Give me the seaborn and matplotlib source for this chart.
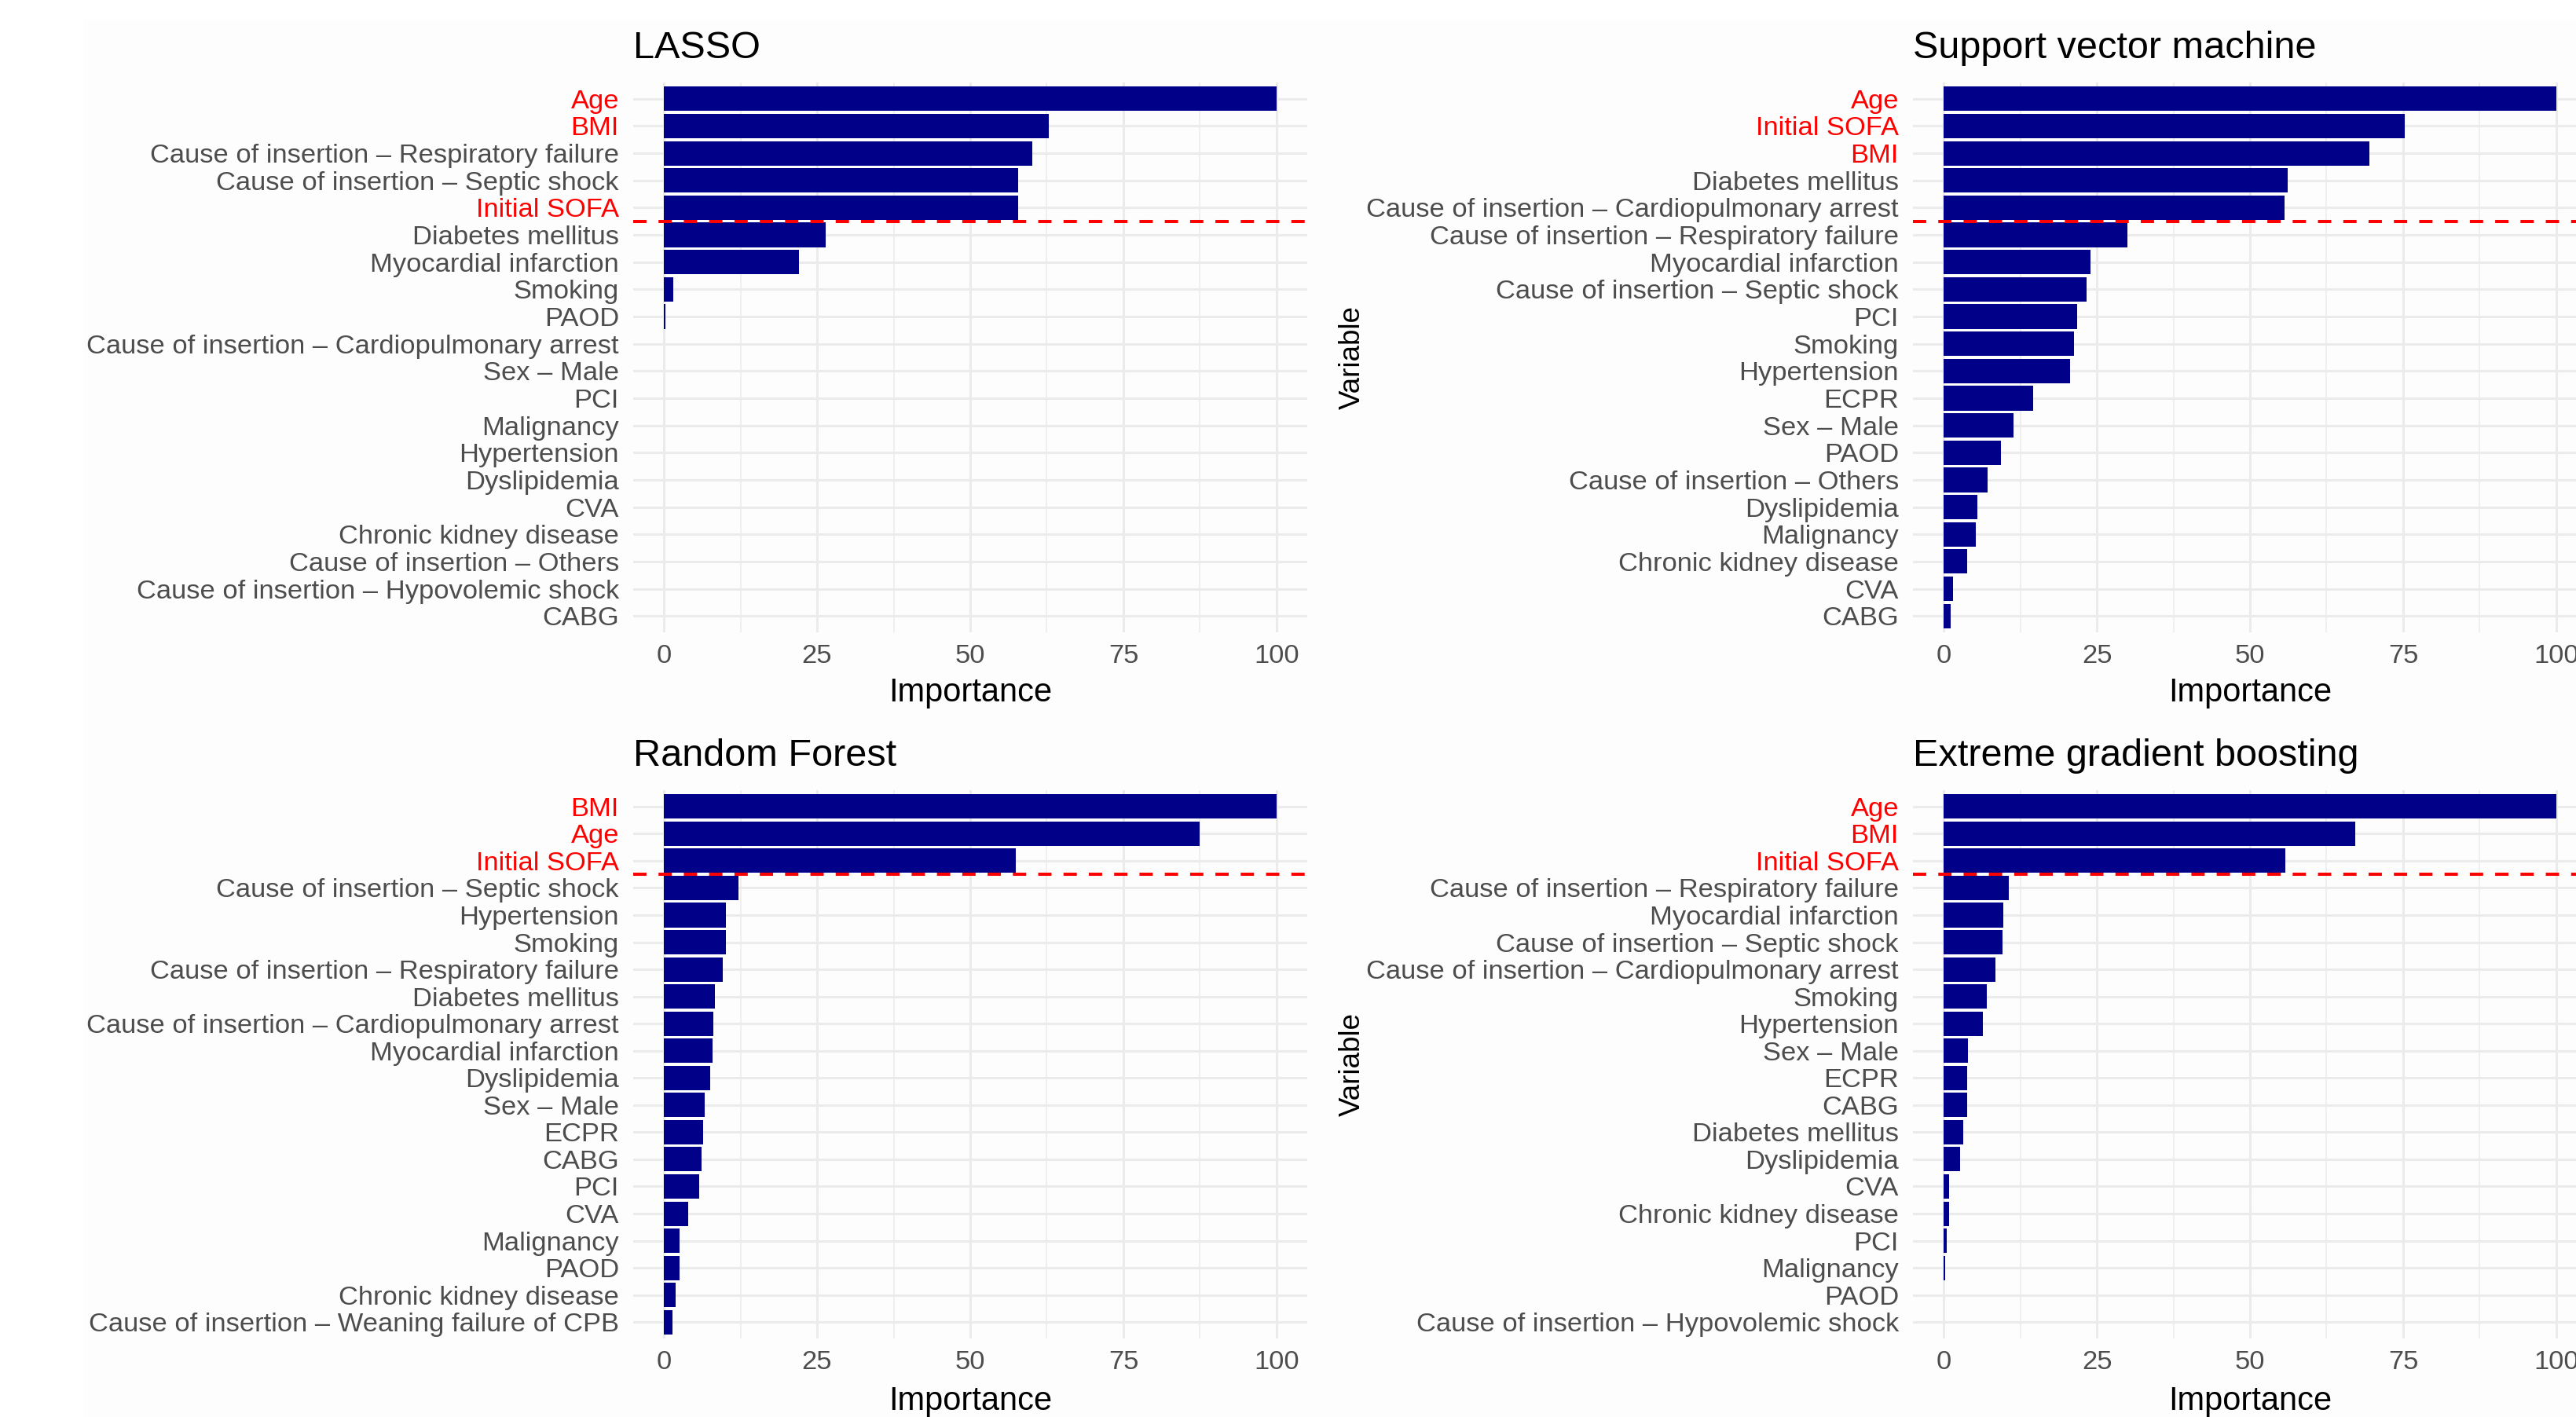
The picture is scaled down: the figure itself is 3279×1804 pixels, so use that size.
import matplotlib
matplotlib.use("Agg")
import matplotlib.pyplot as plt
from matplotlib.patches import Rectangle
import pandas as pd
import seaborn as sns

# ---- variable importance per model (ordered from most to least important) ----
lasso_vars = ["Age", "BMI", "Cause of insertion – Respiratory failure",
              "Cause of insertion – Septic shock", "Initial SOFA", "Diabetes mellitus",
              "Myocardial infarction", "Smoking", "PAOD",
              "Cause of insertion – Cardiopulmonary arrest", "Sex – Male", "PCI",
              "Malignancy", "Hypertension", "Dyslipidemia", "CVA",
              "Chronic kidney disease", "Cause of insertion – Others",
              "Cause of insertion – Hypovolemic shock", "CABG"]
lasso_imp = [100, 62.8, 60.1, 57.8, 57.8, 26.4, 22.1, 1.5, 0.3,
             0, 0, 0, 0, 0, 0, 0, 0, 0, 0, 0]

svm_vars = ["Age", "Initial SOFA", "BMI", "Diabetes mellitus",
            "Cause of insertion – Cardiopulmonary arrest",
            "Cause of insertion – Respiratory failure", "Myocardial infarction",
            "Cause of insertion – Septic shock", "PCI", "Smoking", "Hypertension",
            "ECPR", "Sex – Male", "PAOD", "Cause of insertion – Others",
            "Dyslipidemia", "Malignancy", "Chronic kidney disease", "CVA", "CABG"]
svm_imp = [100, 75.2, 69.5, 56.1, 55.6, 30.0, 24.0, 23.3, 21.8, 21.3,
           20.6, 14.6, 11.4, 9.4, 7.2, 5.5, 5.2, 3.9, 1.6, 1.1]

rf_vars = ["BMI", "Age", "Initial SOFA", "Cause of insertion – Septic shock",
           "Hypertension", "Smoking", "Cause of insertion – Respiratory failure",
           "Diabetes mellitus", "Cause of insertion – Cardiopulmonary arrest",
           "Myocardial infarction", "Dyslipidemia", "Sex – Male", "ECPR", "CABG",
           "PCI", "CVA", "Malignancy", "PAOD", "Chronic kidney disease",
           "Cause of insertion – Weaning failure of CPB"]
rf_imp = [100, 87.5, 57.4, 12.2, 10.1, 10.1, 9.6, 8.3, 8.1, 8.0,
          7.5, 6.7, 6.4, 6.1, 5.8, 4.0, 2.6, 2.6, 1.9, 1.4]

xgb_vars = ["Age", "BMI", "Initial SOFA", "Cause of insertion – Respiratory failure",
            "Myocardial infarction", "Cause of insertion – Septic shock",
            "Cause of insertion – Cardiopulmonary arrest", "Smoking", "Hypertension",
            "Sex – Male", "ECPR", "CABG", "Diabetes mellitus", "Dyslipidemia", "CVA",
            "Chronic kidney disease", "PCI", "Malignancy", "PAOD",
            "Cause of insertion – Hypovolemic shock"]
xgb_imp = [100, 67.2, 55.8, 10.7, 9.8, 9.6, 8.4, 7.0, 6.4, 4.0,
           3.9, 3.9, 3.2, 2.7, 0.9, 0.9, 0.5, 0.2, 0, 0]

titles = ["LASSO", "Support vector machine", "Random Forest", "Extreme gradient boosting"]
cutoffs = [5, 5, 3, 3]            # number of variables above the dashed line
highlighted = ["Age", "BMI", "Initial SOFA"]
x_ticks = [0, 25, 50, 75, 100]
x_minor = [12.5, 37.5, 62.5, 87.5]

NAVY = "#000088"
GRID = "#EBEBEB"
TICK_GRAY = "#4D4D4D"

sns.set_theme(style="white")
plt.rcParams["font.family"] = ["Liberation Sans", "DejaVu Sans"]

W, H = 3279, 1804
fig = plt.figure(figsize=(W / 100, H / 100), dpi=100)
fig.patch.set_facecolor("white")
fig.patches.append(Rectangle((107 / W, 0), (W - 107) / W, (H - 25) / H,
                             transform=fig.transFigure, facecolor="#FDFDFD",
                             edgecolor="none", zorder=-10))

# panel rectangles in pixel units: (left, top, width, height)
rects = [(806, 105, 858, 700), (2435, 105, 858, 700),
         (806, 1006, 858, 698), (2435, 1006, 858, 698)]
xlabel_y = [-0.11, -0.11, -0.114, -0.114]
show_ylabel = [False, True, False, True]

panels = [(lasso_vars, lasso_imp), (svm_vars, svm_imp),
          (rf_vars, rf_imp), (xgb_vars, xgb_imp)]

for i, (vars_, imp) in enumerate(panels):
    l, t, w, h = rects[i]
    ax = fig.add_axes([l / W, (H - t - h) / H, w / W, h / H])
    ax.set_facecolor("none")
    df = pd.DataFrame({"Variable": vars_, "Importance": imp})
    sns.barplot(data=df, x="Importance", y="Variable", order=vars_, color=NAVY,
                saturation=1, width=0.9, errorbar=None, ax=ax, linewidth=0)
    n = len(vars_)
    ax.set_xlim(-5, 105)
    ax.set_ylim(n - 0.4, -0.6)
    ax.set_xticks(x_ticks)
    ax.set_xticklabels([str(v) for v in x_ticks])
    ax.set_xticks(x_minor, minor=True)
    ax.set_axisbelow(True)
    ax.grid(axis="x", which="major", color=GRID, lw=2.2)
    ax.grid(axis="x", which="minor", color=GRID, lw=1.1)
    ax.grid(axis="y", which="major", color=GRID, lw=2.2)
    for s in ax.spines.values():
        s.set_visible(False)
    ax.tick_params(axis="both", which="both", length=0)
    ax.tick_params(axis="y", pad=13, labelsize=24.8, labelcolor=TICK_GRAY)
    ax.tick_params(axis="x", pad=11, labelsize=24.8, labelcolor=TICK_GRAY)
    for lbl in ax.get_yticklabels():
        if lbl.get_text() in highlighted:
            lbl.set_color("#FF0000")
    ax.axhline(cutoffs[i] - 0.5, color="#FF0000", lw=2.9,
               linestyle=(0, (4.2, 3.8)), zorder=4)
    ax.set_title(titles[i], loc="left", fontsize=35, pad=22, color="black")
    ax.set_xlabel("Importance", fontsize=30, color="black")
    ax.xaxis.set_label_coords(0.5, xlabel_y[i])
    ax.xaxis.label.set_verticalalignment("center")
    if show_ylabel[i]:
        ax.set_ylabel("Variable", fontsize=26.5, color="black")
        ax.yaxis.set_label_coords((1721 - l) / w, 0.5)
        ax.yaxis.label.set_verticalalignment("center")
    else:
        ax.set_ylabel("")

fig.savefig("out.png", dpi=100, facecolor=fig.get_facecolor())
